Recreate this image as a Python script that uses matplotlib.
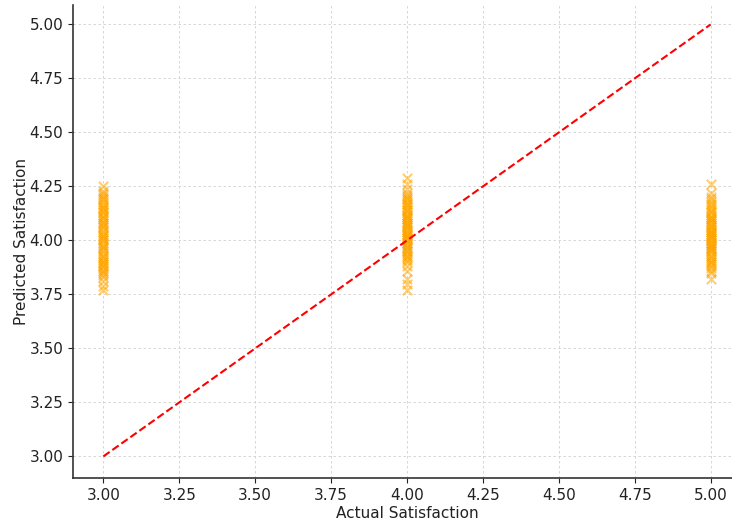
import numpy as np
import matplotlib.pyplot as plt

# predicted satisfaction for each actual rating
pred_3 = [3.77, 3.79, 3.81, 3.83, 3.84, 3.85, 3.86, 3.87, 3.88, 3.89, 3.90, 3.91,
          3.92, 3.93, 3.94, 3.95, 3.96, 3.97, 3.98, 3.99, 4.00, 4.01, 4.02, 4.03,
          4.04, 4.05, 4.06, 4.07, 4.08, 4.09, 4.10, 4.11, 4.12, 4.13, 4.14, 4.15,
          4.16, 4.17, 4.18, 4.19, 4.20, 4.21, 4.22, 4.23, 4.25, 3.88, 3.93, 3.97,
          4.02, 4.06, 4.11, 4.15, 3.86, 3.90, 4.00, 4.08, 4.13, 4.19]
pred_4 = [3.77, 3.80, 3.82, 3.86, 3.88, 3.90, 3.91, 3.92, 3.93, 3.94, 3.95, 3.96,
          3.97, 3.98, 3.99, 4.00, 4.01, 4.02, 4.03, 4.04, 4.05, 4.06, 4.07, 4.08,
          4.09, 4.10, 4.11, 4.12, 4.13, 4.14, 4.15, 4.16, 4.17, 4.18, 4.19, 4.20,
          4.21, 4.22, 4.24, 4.26, 4.29, 3.95, 3.99, 4.02, 4.05, 4.08, 4.11, 4.14,
          4.17, 4.03, 4.07, 4.00, 3.97, 4.12, 4.19, 4.10, 4.06, 4.01, 3.93]
pred_5 = [3.82, 3.85, 3.86, 3.87, 3.88, 3.89, 3.90, 3.91, 3.92, 3.93, 3.94, 3.95,
          3.96, 3.97, 3.98, 3.99, 4.00, 4.01, 4.02, 4.03, 4.04, 4.05, 4.06, 4.07,
          4.08, 4.09, 4.10, 4.11, 4.12, 4.13, 4.14, 4.15, 4.16, 4.17, 4.18, 4.19,
          4.20, 4.22, 4.26, 3.90, 3.95, 3.98, 4.01, 4.04, 4.07, 4.10, 4.13, 3.93,
          3.97, 4.00, 4.03, 4.06, 4.09, 3.99, 4.02, 4.05, 3.96, 4.11]
line_x = [3, 5]
line_y = [3, 5]

actual = np.concatenate([np.full(len(pred_3), 3.0), np.full(len(pred_4), 4.0),
                         np.full(len(pred_5), 5.0)])
predicted = np.concatenate([pred_3, pred_4, pred_5])

fig = plt.figure(figsize=(7.32, 5.19), dpi=100)
ax = fig.add_axes([73/732, 41/519, 668/732, 473/519])

ax.scatter(actual, predicted, marker='x', color='orange', alpha=0.55, s=45, zorder=3)
ax.plot(line_x, line_y, color='red', ls='--', lw=1.5, zorder=4)

ax.set_xlim(2.9, 5.1)
ax.set_ylim(2.9, 5.09)
ax.set_xticks(np.arange(3.0, 5.01, 0.25))
ax.set_yticks(np.arange(3.0, 5.01, 0.25))
ax.xaxis.set_major_formatter(plt.FormatStrFormatter('%.2f'))
ax.yaxis.set_major_formatter(plt.FormatStrFormatter('%.2f'))
ax.grid(True, ls=(0, (3, 3)), color='#d0d0d0', lw=0.6)
ax.set_axisbelow(True)
for s in ['top', 'right']:
    ax.spines[s].set_visible(False)
for s in ['left', 'bottom']:
    ax.spines[s].set_color('#333333')
    ax.spines[s].set_linewidth(1.2)
ax.tick_params(labelsize=11, colors='#222222')
ax.set_xlabel('Actual Satisfaction', fontsize=11, color='#222222', labelpad=2)
ax.set_ylabel('Predicted Satisfaction', fontsize=11, color='#222222', labelpad=0)

fig.savefig('out.png', dpi=100)
